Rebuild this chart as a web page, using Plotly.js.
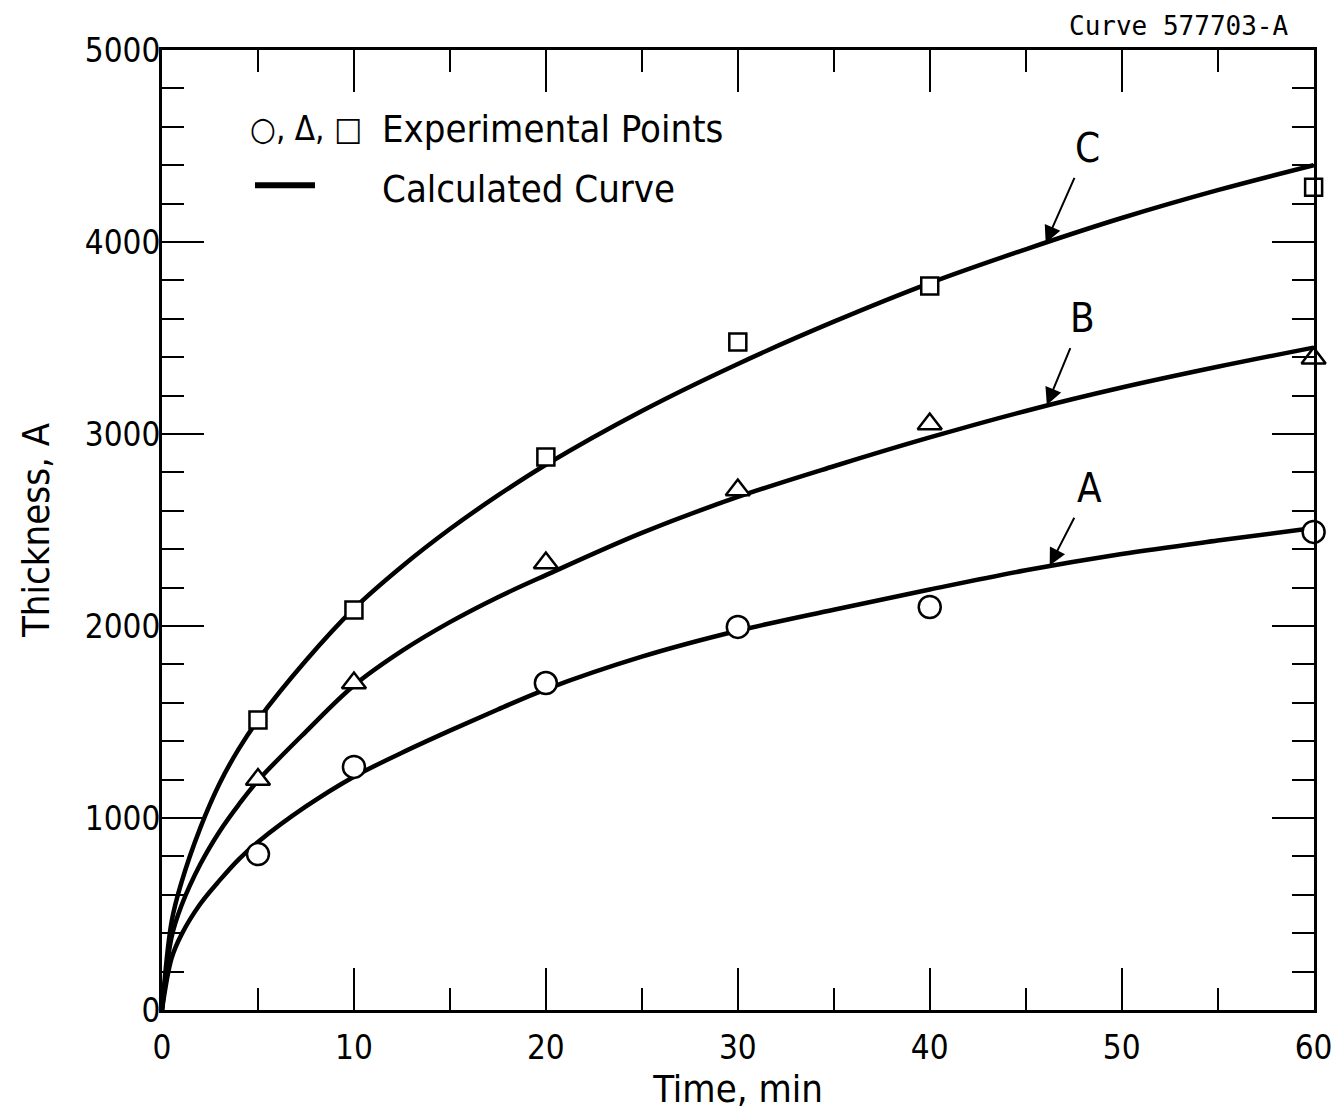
<!DOCTYPE html>
<html>
<head>
<meta charset="utf-8">
<script src="https://cdn.plot.ly/plotly-3.0.1.min.js"></script>
<style>
html,body{margin:0;padding:0;background:#fff;}
#chart{width:1333px;height:1116px;}
</style>
</head>
<body>
<div id="chart"></div>
<script>
// Calculated curves (time in min, thickness in A)
const curveTime = [0, 0.5, 1, 2, 3, 4, 5, 7.5, 10, 12.5, 15, 17.5, 20, 25, 30, 35, 40, 45, 50, 55, 60];
const curveA = [0, 270, 390, 553, 675, 785, 875, 1060, 1215, 1340, 1455, 1565, 1670, 1840, 1975, 2085, 2190, 2290, 2375, 2445, 2510];
const curveB = [0, 380, 540, 760, 930, 1070, 1195, 1450, 1690, 1870, 2020, 2150, 2265, 2485, 2672, 2832, 2982, 3120, 3242, 3350, 3450];
const curveC = [0, 460, 660, 950, 1180, 1360, 1510, 1820, 2090, 2310, 2505, 2680, 2840, 3120, 3365, 3585, 3786, 3962, 4125, 4270, 4400];

// Experimental points
const expTime = [5, 10, 20, 30, 40, 60];
const expA = [812, 1266, 1703, 1995, 2099, 2490];
const expB = [1200, 1703, 2328, 2708, 3052, 3395];
const expC = [1510, 2083, 2880, 3479, 3771, 4285];

const curveLabels = ['A', 'B', 'C'];
const legendPointsText = 'Experimental Points';
const legendCurveText = 'Calculated Curve';
const legendSymbols = '\u25CB, \u0394, \u25A1';
const curveId = 'Curve 577703-A';

const FONT = '"DejaVu Sans Condensed", "Liberation Sans Narrow", sans-serif';

const lineStyle = {color: '#000', width: 4.5, shape: 'spline', smoothing: 1};
const traces = [];
[curveA, curveB, curveC].forEach((ys, i) => {
  traces.push({x: curveTime, y: ys, mode: 'lines', line: lineStyle, showlegend: false, hoverinfo: 'skip', name: curveLabels[i]});
});
const symbols = ['circle', 'triangle-up', 'square'];
const sizes = [22, 21, 17];
[expA, expB, expC].forEach((ys, i) => {
  traces.push({x: expTime, y: ys, mode: 'markers', cliponaxis: false, showlegend: false,
    marker: {symbol: symbols[i], size: sizes[i], color: '#fff', line: {color: '#000', width: 2.5}}});
});

const axisCommon = {
  showgrid: false, zeroline: false, showline: true, linecolor: '#000', linewidth: 3,
  mirror: 'ticks', ticks: 'inside', tickcolor: '#000', tickwidth: 2, ticklen: 42,
  tickfont: {family: FONT, size: 33, color: '#000'}, ticklabeloverflow: 'allow'
};

const layout = {
  width: 1333, height: 1116,
  paper_bgcolor: '#fff', plot_bgcolor: '#fff',
  margin: {l: 162, r: 19, t: 50, b: 106},
  font: {family: FONT, color: '#000'},
  xaxis: Object.assign({}, axisCommon, {
    range: [0, 60.02], dtick: 10, tick0: 0,
    minor: {dtick: 5, ticks: 'inside', ticklen: 22, tickwidth: 2, tickcolor: '#000', showgrid: false},
    ticklabelstandoff: 6,
    title: {text: 'Time, min', font: {family: FONT, size: 38, color: '#000'}, standoff: 8},
    automargin: false
  }),
  yaxis: Object.assign({}, axisCommon, {
    range: [0, 5000], dtick: 1000, tick0: 0,
    minor: {dtick: 200, ticks: 'inside', ticklen: 22, tickwidth: 2, tickcolor: '#000', showgrid: false},
    ticklabelstandoff: -8,
    title: {text: 'Thickness, A', font: {family: FONT, size: 38, color: '#000'}, standoff: 24},
    automargin: false
  }),
  shapes: [
    {type: 'line', xref: 'paper', yref: 'paper', x0: 0.0807, x1: 0.1328, y0: 0.859, y1: 0.859,
     line: {color: '#000', width: 6}}
  ],
  annotations: [
    {xref: 'paper', yref: 'paper', x: 0.979, y: 1.025, xanchor: 'right', yanchor: 'middle', showarrow: false,
     text: curveId, font: {family: '"DejaVu Sans Mono", "Liberation Mono", monospace', size: 26, color: '#000'}},
    {xref: 'paper', yref: 'paper', x: 0.075, y: 0.918, xanchor: 'left', yanchor: 'middle', showarrow: false,
     text: legendSymbols, font: {family: FONT, size: 33, color: '#000'}},
    {xref: 'paper', yref: 'paper', x: 0.189, y: 0.918, xanchor: 'left', yanchor: 'middle', showarrow: false,
     text: legendPointsText, font: {family: FONT, size: 38, color: '#000'}},
    {xref: 'paper', yref: 'paper', x: 0.189, y: 0.855, xanchor: 'left', yanchor: 'middle', showarrow: false,
     text: legendCurveText, font: {family: FONT, size: 38, color: '#000'}},
    {x: 46.04, y: 3995, axref: 'x', ayref: 'y', ax: 48.23, ay: 4490, text: curveLabels[2],
     font: {family: FONT, size: 40, color: '#000'}, showarrow: true, arrowhead: 2, arrowsize: 1.7,
     arrowwidth: 2, arrowcolor: '#000', standoff: 0, startstandoff: 6},
    {x: 46.1, y: 3151, axref: 'x', ayref: 'y', ax: 47.97, ay: 3604, text: curveLabels[1],
     font: {family: FONT, size: 40, color: '#000'}, showarrow: true, arrowhead: 2, arrowsize: 1.7,
     arrowwidth: 2, arrowcolor: '#000', standoff: 0, startstandoff: 6},
    {x: 46.25, y: 2315, axref: 'x', ayref: 'y', ax: 48.33, ay: 2719, text: curveLabels[0],
     font: {family: FONT, size: 40, color: '#000'}, showarrow: true, arrowhead: 2, arrowsize: 1.7,
     arrowwidth: 2, arrowcolor: '#000', standoff: 0, startstandoff: 6}
  ]
};

Plotly.newPlot('chart', traces, layout, {staticPlot: true, displayModeBar: false});
</script>
</body>
</html>
